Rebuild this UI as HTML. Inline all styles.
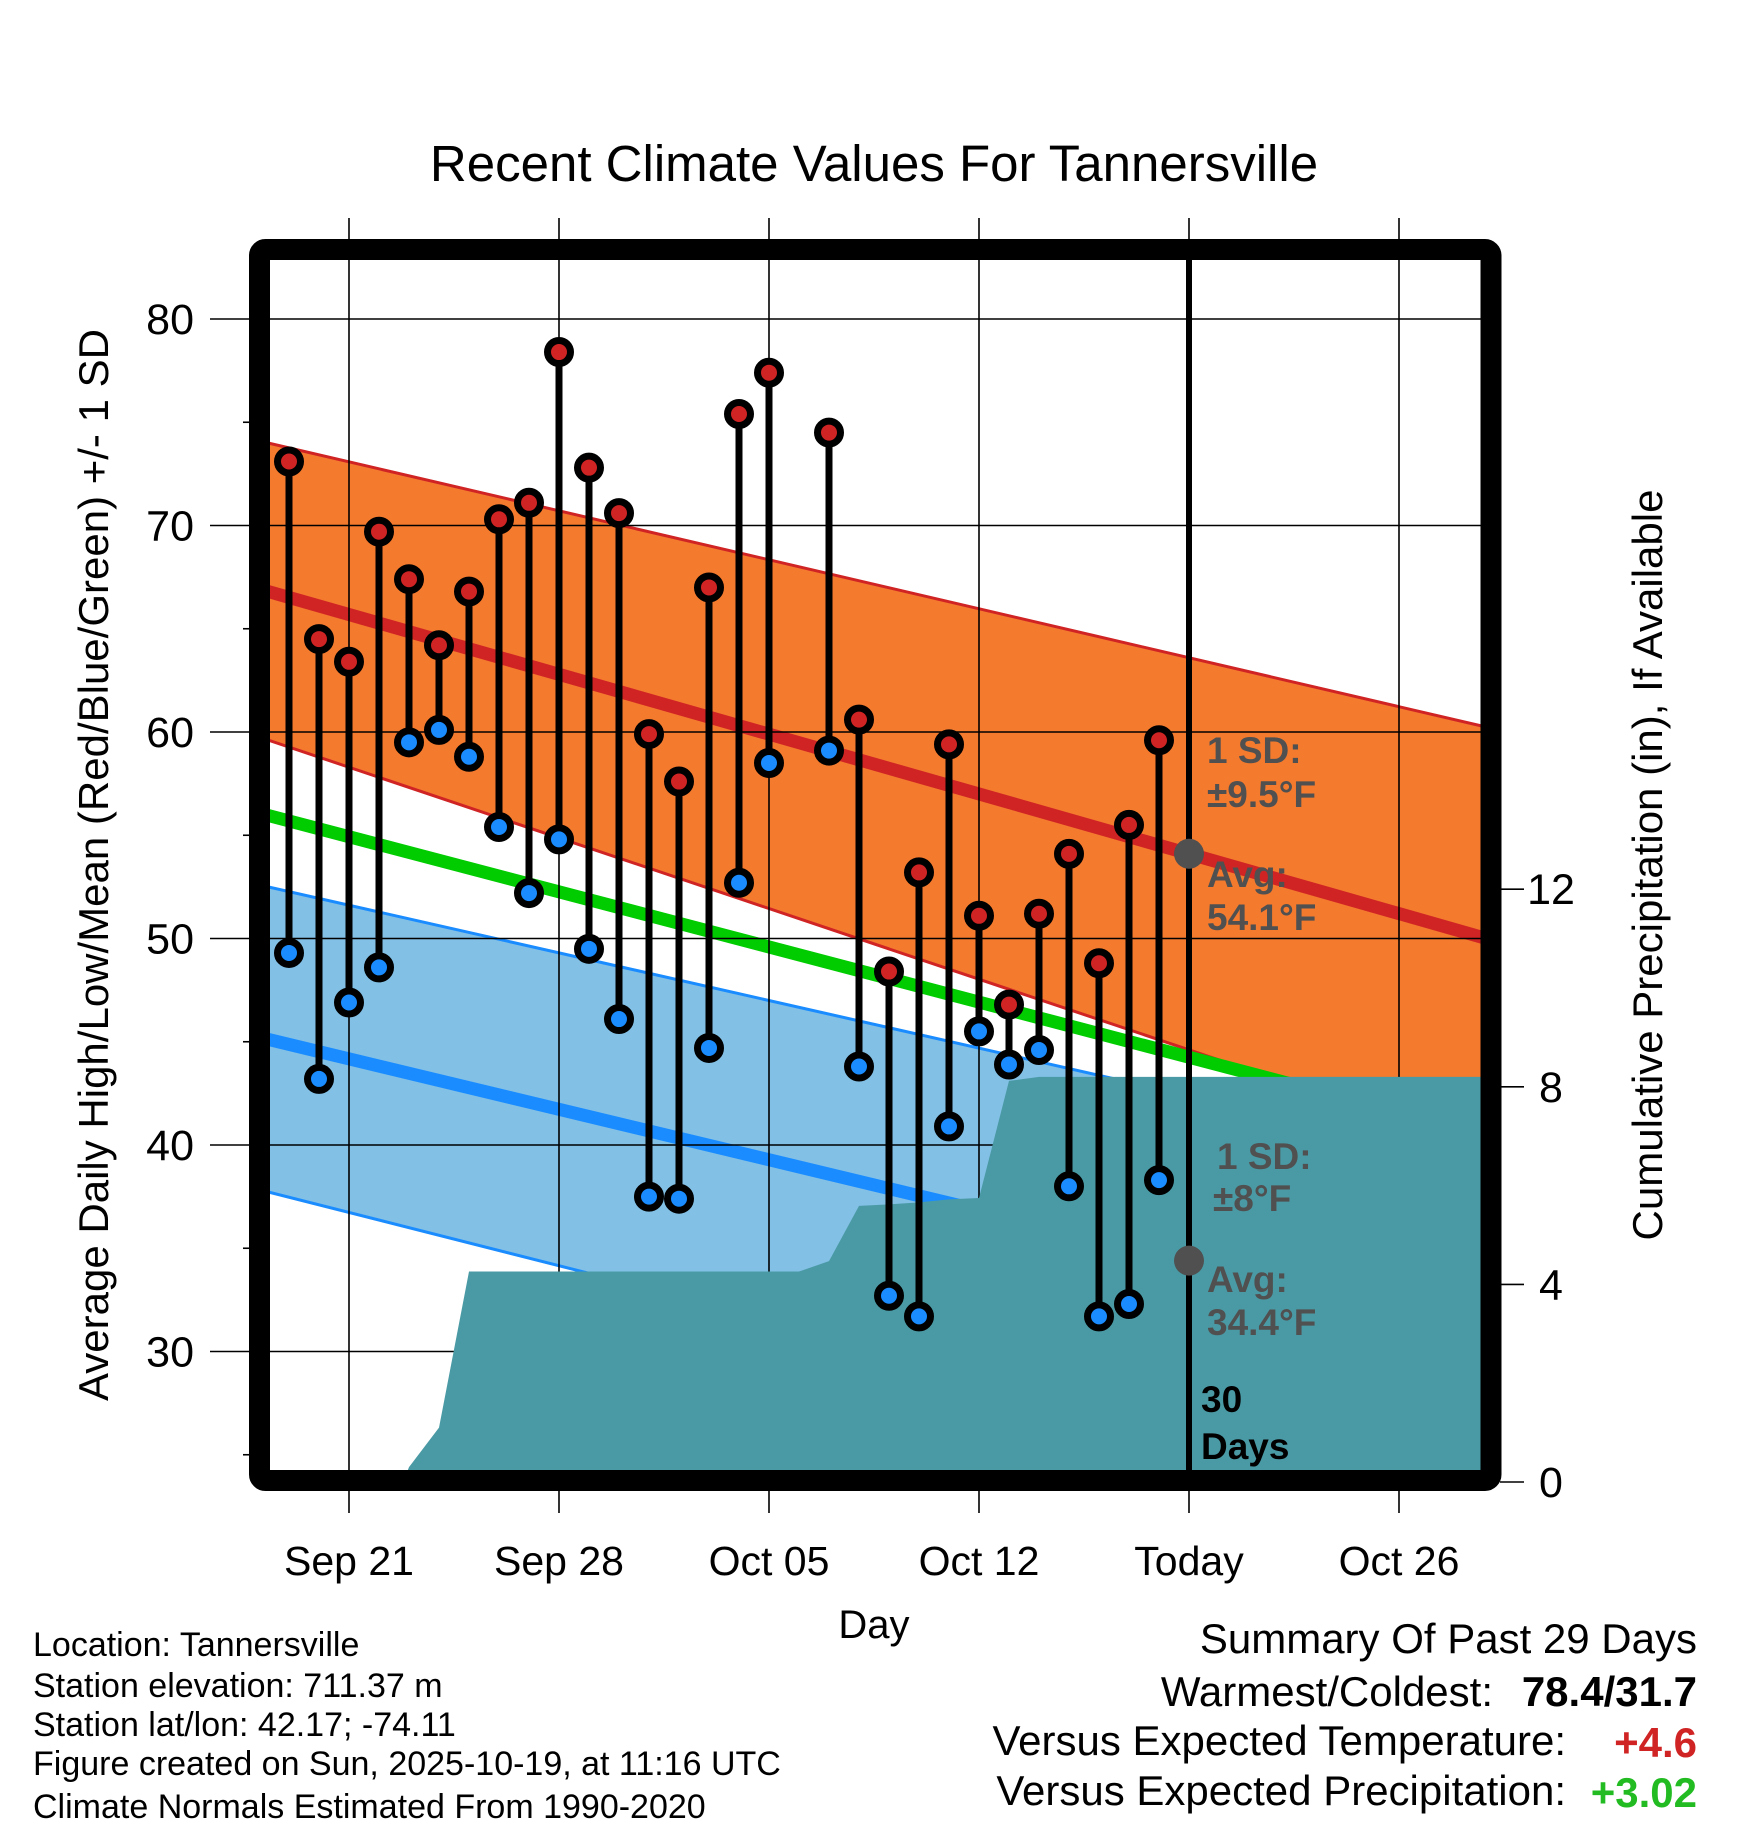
<!DOCTYPE html>
<html><head><meta charset="utf-8"><style>
body{margin:0;background:#fff}
svg{display:block;font-family:"Liberation Sans",Arial,sans-serif}
</style></head><body>
<svg id="chart" width="1748" height="1828" viewBox="0 0 1748 1828" xmlns="http://www.w3.org/2000/svg">
<defs><clipPath id="plotclip"><rect x="270" y="260" width="1211" height="1211"/></clipPath></defs>
<text x="874" y="181" font-size="51" text-anchor="middle">Recent Climate Values For Tannersville</text>
<g id="plot" clip-path="url(#plotclip)"></g>
<g id="axes"></g>
<text transform="translate(108,865) rotate(-90)" font-size="42" text-anchor="middle">Average Daily High/Low/Mean (Red/Blue/Green) +/- 1 SD</text>
<text transform="translate(1662,865) rotate(-90)" font-size="42" text-anchor="middle">Cumulative Precipitation (in), If Available</text>
<text x="874" y="1638" font-size="40" text-anchor="middle">Day</text>
<g font-size="34">
<text x="33" y="1656">Location: Tannersville</text>
<text x="33" y="1697">Station elevation: 711.37 m</text>
<text x="33" y="1736">Station lat/lon: 42.17; -74.11</text>
<text x="33" y="1775">Figure created on Sun, 2025-10-19, at 11:16 UTC</text>
<text x="33" y="1818">Climate Normals Estimated From 1990-2020</text>
</g>
<g font-size="42">
<text x="1697" y="1653" text-anchor="end">Summary Of Past 29 Days</text>
<text x="1493" y="1706" text-anchor="end">Warmest/Coldest:</text>
<text x="1697" y="1706" text-anchor="end" font-weight="bold">78.4/31.7</text>
<text x="1566" y="1755" text-anchor="end">Versus Expected Temperature:</text>
<text x="1697" y="1757" text-anchor="end" font-weight="bold" fill="#d02424">+4.6</text>
<text x="1566" y="1805" text-anchor="end">Versus Expected Precipitation:</text>
<text x="1697" y="1807" text-anchor="end" font-weight="bold" fill="#22bb22">+3.02</text>
</g>
</svg>
<script>
// data (day index 0 = Sep 19)
const dayIdx   = [0,1,2,3,4,5,6,7,8,9,10,11,12,13,14,15,16,17,18,19,20,21,22,23,24,25,26,27,28,29];
const highs    = [73.1,64.5,63.4,69.7,67.4,64.2,66.8,70.3,71.1,78.4,72.8,70.6,59.9,57.6,67.0,75.4,77.4,null,74.5,60.6,48.4,53.2,59.4,51.1,46.8,51.2,54.1,48.8,55.5,59.6];
const lows     = [49.3,43.2,46.9,48.6,59.5,60.1,58.8,55.4,52.2,54.8,49.5,46.1,37.5,37.4,44.7,52.7,58.5,null,59.1,43.8,32.7,31.7,40.9,45.5,43.9,44.6,38.0,31.7,32.3,38.3];
const precipDay= [-1,0,1,2,3.8,4,5,6,7,8,9,10,11,12,13,14,15,16,17,18,19,20,21,22,23,24,25,26,27,28,29,45];
const precipCum= [0,0,0,0,0,0.3,1.1,4.26,4.26,4.26,4.26,4.26,4.26,4.26,4.26,4.26,4.26,4.26,4.26,4.47,5.59,5.62,5.66,5.72,5.75,8.12,8.2,8.2,8.2,8.2,8.2,8.2];
const normDay  = [-1,41];
const normHigh = [66.93,49.55];
const normLow  = [45.22,30.56];
const sdHigh   = [7.17,10.32];
const sdLow    = [7.38,8.2];
const yTicks = [30,40,50,60,70,80];
const yMinor = [25,35,45,55,65,75];
const pTicks = [0,4,8,12];
const xTickDays = [2,9,16,23,30,37];
const xTickLabels = ["Sep 21","Sep 28","Oct 05","Oct 12","Today","Oct 26"];
const todayIdx = 30;

const NS="http://www.w3.org/2000/svg";
const X = d => 289 + d*30;
const Y = v => 319 + (80 - v)*20.65;
const P = p => 1482 - p*49.4;
function mk(tag, attrs, parent){const e=document.createElementNS(NS,tag);for(const k in attrs)e.setAttribute(k,attrs[k]);parent.appendChild(e);return e;}
const plotG=document.getElementById('plot'), axesG=document.getElementById('axes'), svgEl=document.getElementById('chart');

function band(arr, sd, fill, name){
  const x0=X(normDay[0]), x1=X(normDay[1]);
  const d=`M${x0},${Y(arr[0]+sd[0])} L${x1},${Y(arr[1]+sd[1])} L${x1},${Y(arr[1]-sd[1])} L${x0},${Y(arr[0]-sd[0])} Z`;
  const e=mk('path',{d:d,fill:fill},plotG);
  
  
}
function nline(arr, sd, sign, color, w, name){
  const e=mk('line',{x1:X(normDay[0]),y1:Y(arr[0]+sign*sd[0]),x2:X(normDay[1]),y2:Y(arr[1]+sign*sd[1]),stroke:color,'stroke-width':w},plotG);
  
  
}
const zero=[0,0];
band(normHigh, sdHigh, '#f47a2e', 'high-sd-band');
nline(normHigh, sdHigh, 1, '#d02424', 3, 'high-sd-upper');
nline(normHigh, sdHigh, -1, '#d02424', 3, 'high-sd-lower');
band(normLow, sdLow, '#82c0e6', 'low-sd-band');
nline(normLow, sdLow, 1, '#1a8cff', 3, 'low-sd-upper');
nline(normLow, sdLow, -1, '#1a8cff', 3, 'low-sd-lower');
nline(normHigh, zero, 0, '#d02424', 13, 'normal-high-line');
nline(normLow, zero, 0, '#1a8cff', 13, 'normal-low-line');
const normMean=[(normHigh[0]+normLow[0])/2,(normHigh[1]+normLow[1])/2];
nline(normMean, zero, 0, '#00cc00', 13, 'normal-mean-line');

yTicks.forEach(v=>{
  const g=mk('line',{x1:210,y1:Y(v),x2:1481,y2:Y(v),stroke:'#000','stroke-width':1.6},axesG);
  
  
  const t=mk('text',{x:194,y:Y(v)+15,'font-size':43,'text-anchor':'end'},axesG);
  t.textContent=v;
  
  
});
yMinor.forEach(v=>{
  const g=mk('line',{x1:243,y1:Y(v),x2:255,y2:Y(v),stroke:'#000','stroke-width':1.6},axesG);
  
  
});
xTickDays.forEach((d,i)=>{
  const g=mk('line',{x1:X(d),y1:218,x2:X(d),y2:1513,stroke:'#000','stroke-width':1.6},axesG);
  
  
  const t=mk('text',{x:X(d),y:1575,'font-size':41,'text-anchor':'middle'},axesG);
  t.textContent=xTickLabels[i];
  
  
});
pTicks.forEach(p=>{
  const g=mk('line',{x1:1500,y1:P(p),x2:1524,y2:P(p),stroke:'#000','stroke-width':1.6},axesG);
  
  
  const t=mk('text',{x:1551,y:P(p)+15,'font-size':43,'text-anchor':'middle'},axesG);
  t.textContent=p;
  
  
});

const dataG=mk('g',{'clip-path':'url(#plotclip)'},svgEl);


let pd=`M${X(precipDay[0])},${P(0)}`;
precipDay.forEach((d,i)=>{pd+=` L${X(d)},${P(precipCum[i])}`;});
pd+=` L${X(precipDay[precipDay.length-1])},${P(0)} Z`;
const pa=mk('path',{d:pd,fill:'#4a9aa5'},dataG);



const tl=mk('line',{x1:X(todayIdx),y1:260,x2:X(todayIdx),y2:1475,stroke:'#000','stroke-width':6},dataG);



function txt(x,y,s,fill,name){const t=mk('text',{x:x,y:y,'font-size':37,'font-weight':'bold',fill:fill},dataG);t.textContent=s;}
const frac=(todayIdx-normDay[0])/(normDay[1]-normDay[0]);
const gd1=mk('circle',{cx:X(todayIdx),cy:Y(normHigh[0]+(normHigh[1]-normHigh[0])*frac),r:15,fill:'#505050'},dataG);


const gd2=mk('circle',{cx:X(todayIdx),cy:Y(normLow[0]+(normLow[1]-normLow[0])*frac),r:15,fill:'#505050'},dataG);


txt(1207,763,'1 SD:','#505050','high-sd-label');
txt(1207,807,'±9.5°F','#505050','high-sd-value');
txt(1207,887,'Avg:','#505050','high-avg-label');
txt(1207,930,'54.1°F','#505050','high-avg-value');
txt(1217,1169,'1 SD:','#505050','low-sd-label');
txt(1213,1211,'±8°F','#505050','low-sd-value');
txt(1207,1292,'Avg:','#505050','low-avg-label');
txt(1207,1335,'34.4°F','#505050','low-avg-value');
txt(1201,1412,'30','#000','days-label-num');
txt(1201,1459,'Days','#000','days-label-text');

dayIdx.forEach((d,i)=>{
  if(highs[i]==null) return;
  const s=mk('line',{x1:X(d),y1:Y(highs[i]),x2:X(d),y2:Y(lows[i]),stroke:'#000','stroke-width':7},dataG);
  
  
});
dayIdx.forEach((d,i)=>{
  if(highs[i]==null) return;
  [[highs[i],'#d02424','high-point'],[lows[i],'#1a8cff','low-point']].forEach(([v,c,n])=>{
    const o=mk('circle',{cx:X(d),cy:Y(v),r:11.5,fill:c,stroke:'#000','stroke-width':7},dataG);
    
    
  });
});

const fr=mk('rect',{x:259.5,y:249.5,width:1231.5,height:1231,rx:6,fill:'none',stroke:'#000','stroke-width':21},svgEl);


</script>
</body></html>
